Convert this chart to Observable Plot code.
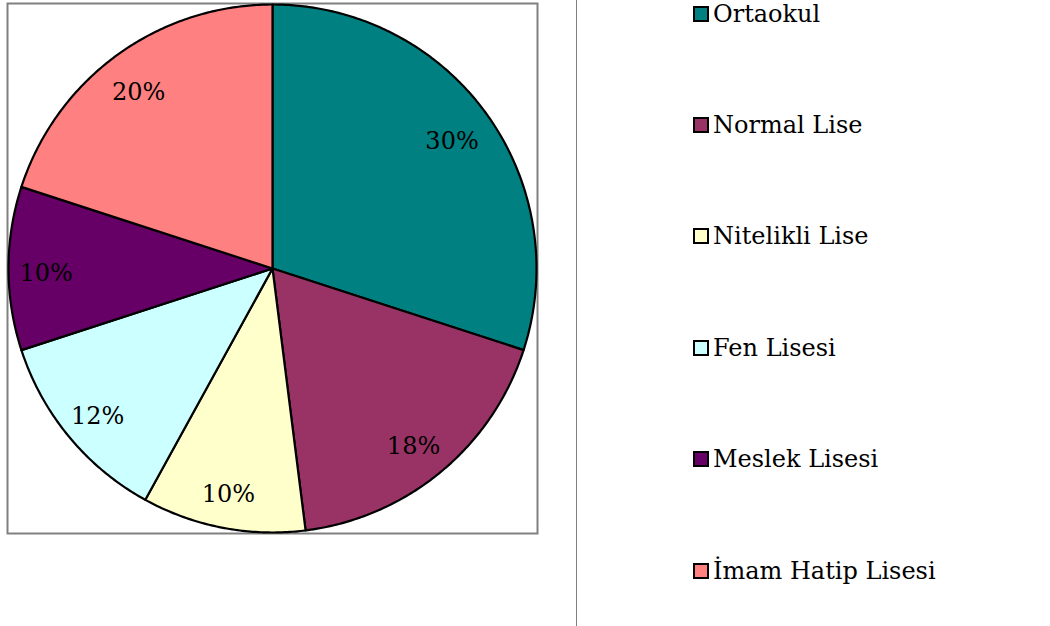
<!DOCTYPE html>
<html>
<head>
<meta charset="utf-8">
<script src="https://cdn.jsdelivr.net/npm/d3@7"></script>
<script src="https://cdn.jsdelivr.net/npm/@observablehq/plot@0.6"></script>
<style>
  html, body { margin: 0; padding: 0; background: #fff; }
  #wrap { position: relative; width: 1050px; height: 626px; overflow: hidden; font-family: "DejaVu Serif", serif; }
  #chart { position: absolute; left: 0; top: 0; }
  #divider { position: absolute; left: 576px; top: 0; width: 1px; height: 626px; background: #808080; }
  #legend { position: absolute; left: 693px; top: 0; }
  .item { position: absolute; left: 0; white-space: nowrap; font-size: 24px; color: #000; line-height: 1; }
  .sw { display: inline-block; width: 12px; height: 12px; border: 2px solid #000; vertical-align: middle; margin-right: 4px; position: relative; top: -2px; }
</style>
</head>
<body>
<div id="wrap">
  <div id="chart"></div>
  <div id="divider"></div>
  <div id="legend"></div>
</div>
<script>
const categories = ["Ortaokul", "Normal Lise", "Nitelikli Lise", "Fen Lisesi", "Meslek Lisesi", "İmam Hatip Lisesi"];
const values = [30, 18, 10, 12, 10, 20];
const colors = ["#008080", "#993366", "#FFFFCC", "#CCFFFF", "#660066", "#FF8080"];

const total = d3.sum(values);
const slices = [];
const labels = [];
let acc = 0;
categories.forEach((cat, i) => {
  const a0 = acc / total * 2 * Math.PI;
  acc += values[i];
  const a1 = acc / total * 2 * Math.PI;
  const n = Math.max(2, Math.ceil((a1 - a0) / 0.01));
  slices.push({cat, x: 0, y: 0});
  for (let k = 0; k <= n; k++) {
    const a = a0 + (a1 - a0) * k / n;
    slices.push({cat, x: Math.sin(a), y: Math.cos(a)});
  }
  slices.push({cat, x: 0, y: 0});
  const am = (a0 + a1) / 2;
  labels.push({cat, x: 0.85 * Math.sin(am), y: 0.85 * Math.cos(am), text: Math.round(values[i] / total * 100) + "%"});
});

const W = 1050, H = 626;
const plot = Plot.plot({
  width: W,
  height: H,
  marginLeft: 8,
  marginRight: W - 536,
  marginTop: 4,
  marginBottom: H - 532,
  x: {domain: [-1, 1], axis: null},
  y: {domain: [-1, 1], axis: null},
  color: {domain: categories, range: colors},
  style: {fontFamily: "DejaVu Serif, serif", background: "white"},
  marks: [
    Plot.frame({stroke: "#808080", strokeWidth: 2, inset: -1}),
    Plot.line(slices, {x: "x", y: "y", z: "cat", fill: "cat", stroke: "black", strokeWidth: 2.2, strokeLinejoin: "round", curve: "linear"}),
    Plot.text(labels, {x: "x", y: "y", text: "text", fontSize: 24, fill: "black", dy: 5, dx: -2})
  ]
});
document.getElementById("chart").appendChild(plot);

const legend = document.getElementById("legend");
const legendTops = [2, 113, 224, 336, 447, 559];
categories.forEach((cat, i) => {
  const d = document.createElement("div");
  d.className = "item";
  d.style.top = legendTops[i] + "px";
  const s = document.createElement("span");
  s.className = "sw";
  s.style.background = colors[i];
  d.appendChild(s);
  d.appendChild(document.createTextNode(cat));
  legend.appendChild(d);
});
</script>
</body>
</html>
